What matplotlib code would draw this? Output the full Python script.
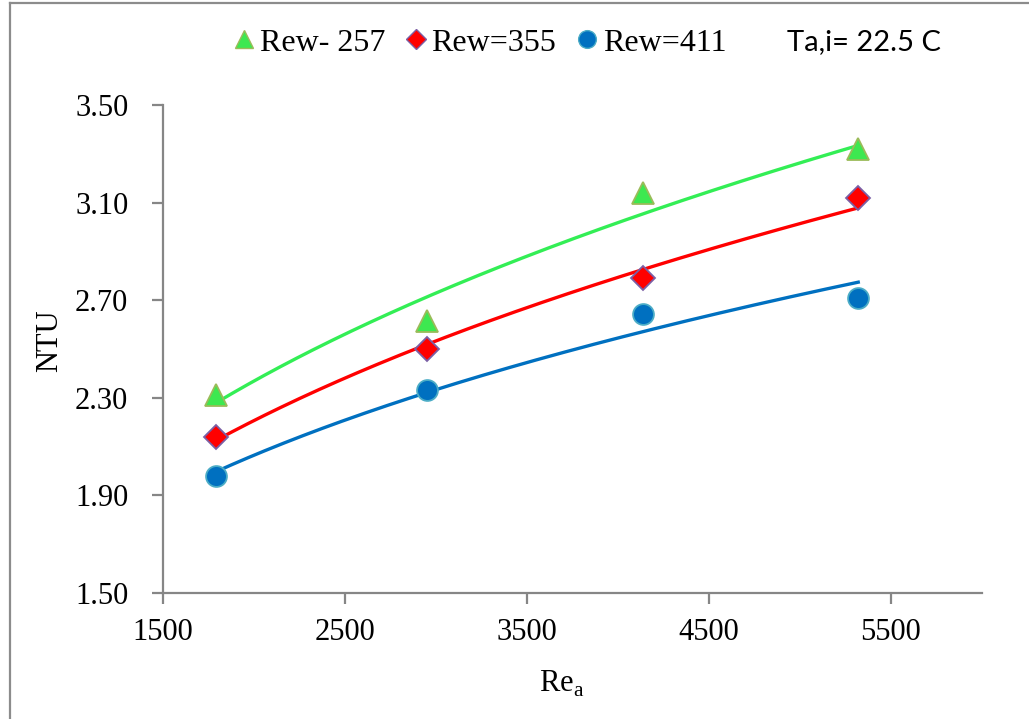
import numpy as np
import matplotlib
matplotlib.use("Agg")
import matplotlib.pyplot as plt
from matplotlib.lines import Line2D

# ---- data ----
re_a = [1790, 2950, 4140, 5320]
ntu_257 = [2.31, 2.615, 3.14, 3.32]
ntu_355 = [2.14, 2.50, 2.79, 3.12]
ntu_411 = [1.98, 2.33, 2.645, 2.71]
labels = ["Rew- 257", "Rew=355", "Rew=411"]
x_ticks = [1500, 2500, 3500, 4500, 5500]
y_ticks = [1.50, 1.90, 2.30, 2.70, 3.10, 3.50]
note = "Ta,i= 22.5 C"

plt.rcParams['font.family'] = ['Liberation Serif', 'DejaVu Serif']
plt.rcParams['mathtext.fontset'] = 'custom'
plt.rcParams['mathtext.rm'] = 'Liberation Serif'

W, H = 1029, 719
fig = plt.figure(figsize=(W / 100, H / 100), dpi=100)
ax = fig.add_axes([163 / W, 1 - 593 / H, (982 - 163) / W, (593 - 105) / H])

series = [
    (ntu_257, '^', '#3DE850', '#9BBB59', '#33EE55', 16),
    (ntu_355, 'D', '#FF0000', '#7B5FA5', '#FF0000', 12),
    (ntu_411, 'o', '#0070C0', '#4BACC6', '#0070C0', 15),
]
x = np.array(re_a, dtype=float)
handles = []
for (vals, mk, fc, ec, lc, ms), lab in zip(series, labels):
    y = np.array(vals, dtype=float)
    b, loga = np.polyfit(np.log(x), np.log(y), 1)
    xs = np.linspace(x.min(), x.max(), 200)
    ax.plot(xs, np.exp(loga) * xs ** b, color=lc, lw=2.4, zorder=2)
    ax.plot(x, y, linestyle='none', marker=mk, ms=ms, mfc=fc, mec=ec, mew=1.3, zorder=3)
    handles.append(Line2D([], [], linestyle='none', marker=mk, ms=ms * 0.85,
                          mfc=fc, mec=ec, mew=1.0, label=lab))

ax.set_xlim(1500, 6000)
ax.set_ylim(1.5, 3.5)
ax.set_xticks(x_ticks)
ax.set_yticks(y_ticks)
ax.set_yticklabels([f"{v:.2f}" for v in y_ticks])
gray = '#868686'
for s in ['top', 'right']:
    ax.spines[s].set_visible(False)
for s in ['left', 'bottom']:
    ax.spines[s].set_color(gray)
    ax.spines[s].set_linewidth(1.6)
ax.tick_params(axis='both', direction='out', length=8, width=1.6, color=gray,
               labelsize=22, labelcolor='black')
ax.tick_params(axis='y', pad=17)
ax.tick_params(axis='x', pad=10)

fig.text(50 / W, 1 - 341 / H, "NTU", rotation=90, ha='center', va='center', fontsize=22)
fig.text(562 / W, 1 - 684 / H, r"Re$_\mathregular{a}$", ha='center', va='center', fontsize=22)

fig.legend(handles=handles, loc='center', bbox_to_anchor=(477 / W, 1 - 43 / H), ncol=3,
           frameon=False, fontsize=23, handletextpad=0.0, columnspacing=0.45,
           handlelength=1.0, borderaxespad=0)
fig.text(864 / W, 1 - 42 / H, note, ha='center', va='center', fontsize=21,
         family=['Lato', 'DejaVu Sans'])

# figure border (left and top visible)
fig.add_artist(Line2D([10 / W, 10 / W], [-0.1, 1 - 3 / H], color='#8C8C8C', lw=1.6,
                      transform=fig.transFigure))
fig.add_artist(Line2D([10 / W, 1.1], [1 - 3 / H, 1 - 3 / H], color='#8C8C8C', lw=1.6,
                      transform=fig.transFigure))

fig.savefig("out.png", dpi=100)
